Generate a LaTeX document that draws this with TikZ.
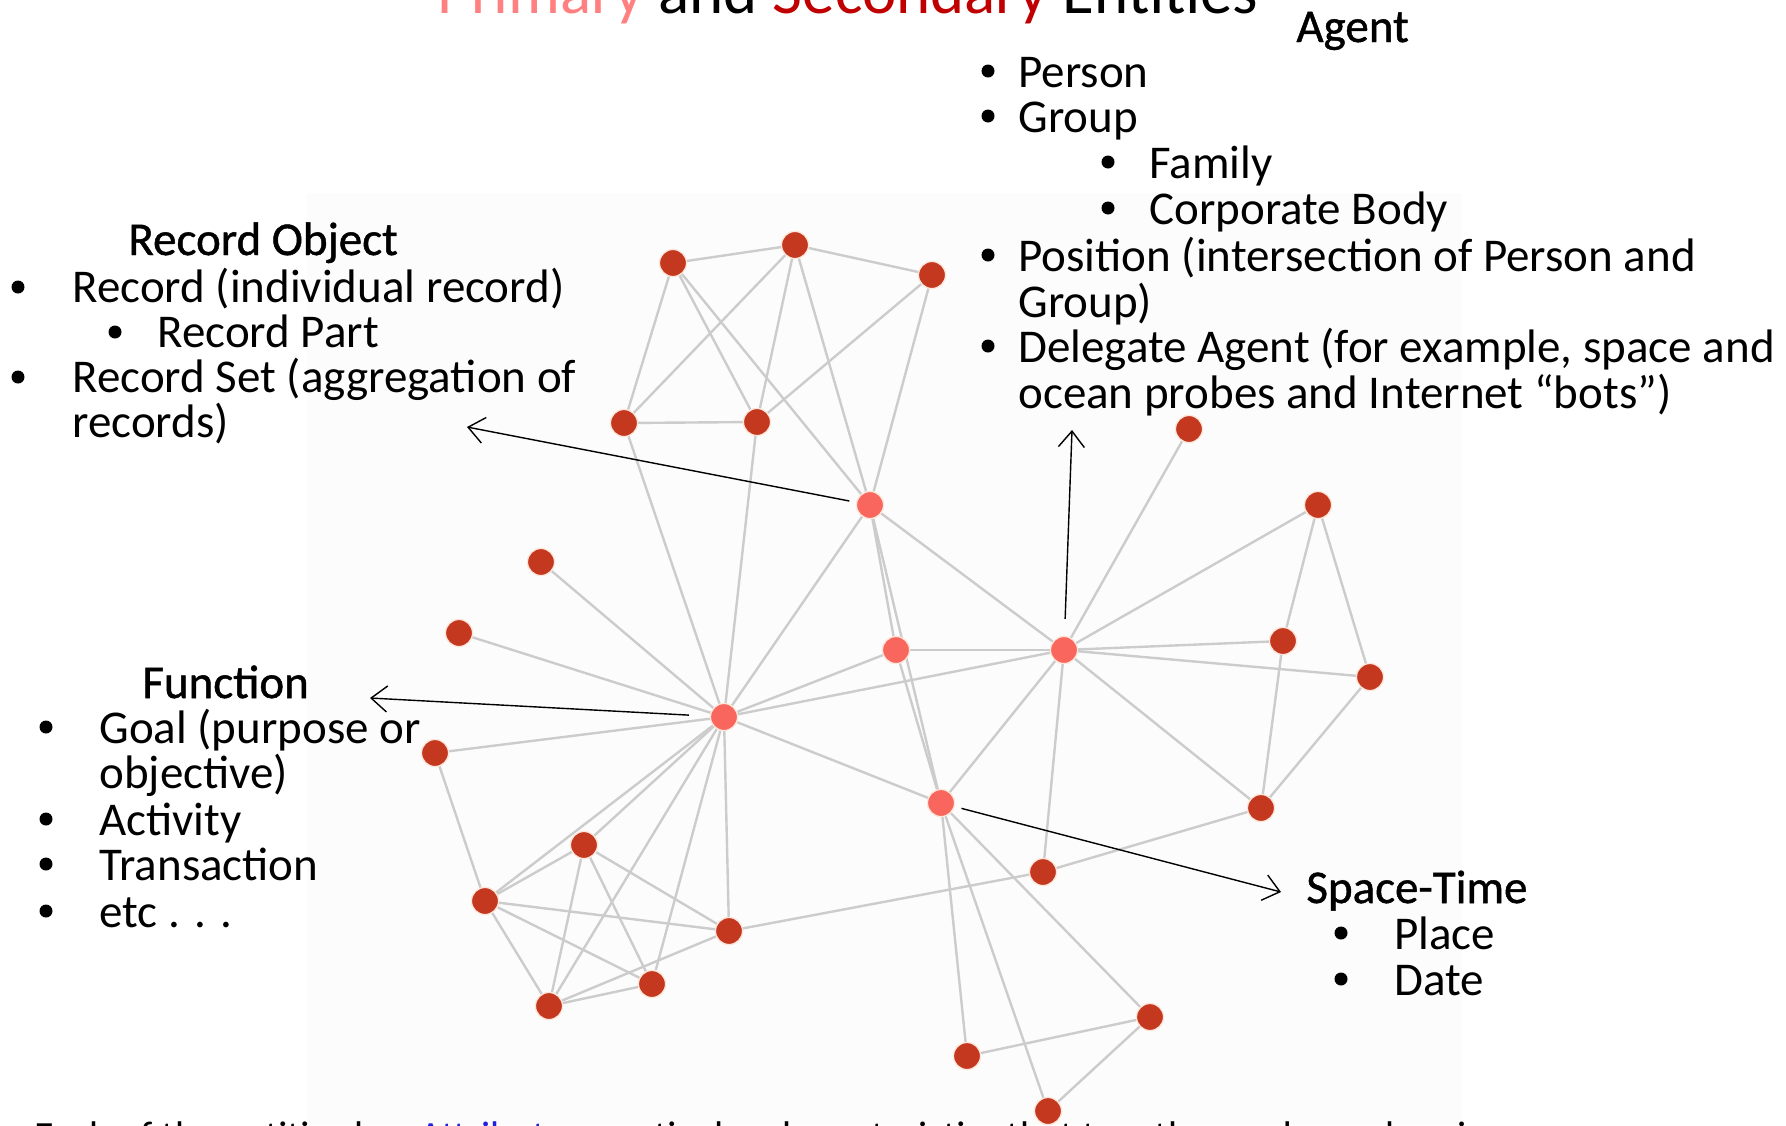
\documentclass[tikz,border=0pt]{standalone}
\usepackage{fontspec}
\setmainfont{Carlito}
\newfontfamily\headfont{Carlito}[FakeBold=1]
\usetikzlibrary{arrows.meta}
\definecolor{darknode}{HTML}{C43820}
\definecolor{pinknode}{HTML}{F8665E}
\definecolor{edgegray}{HTML}{CCCCCC}
\definecolor{primcol}{HTML}{FF8080}
\definecolor{seccol}{HTML}{C00000}
\definecolor{attrcol}{HTML}{2020E0}
\definecolor{bgpanel}{HTML}{FCFCFC}
\definecolor{ringcol}{HTML}{FFE6DA}
\tikzset{
  vtx/.style={circle, inner sep=0pt, minimum size=13.5pt, line width=0.6pt, draw=ringcol},
  dk/.style={vtx, fill=darknode},
  pk/.style={vtx, fill=pinknode},
  link/.style={draw=edgegray, line width=1.2pt},
  arr/.style={draw=black, line width=0.7pt, -{Straight Barb[length=8pt,width=13pt,line width=0.7pt]}},
  txt/.style={anchor=base west, inner sep=0pt, font=\fontsize{23.5}{23.5}\selectfont},
  head/.style={anchor=base west, inner sep=0pt, font=\headfont\fontsize{23.5}{23.5}\selectfont},
  bul/.style={circle, fill=black, inner sep=0pt, minimum size=6.5pt},
}
\begin{document}
\begin{tikzpicture}[x=0.5pt,y=-0.5pt]
\useasboundingbox (0,0) rectangle (1786,1125);
\fill[white] (0,0) rectangle (1786,1125);
\fill[bgpanel] (307,193) rectangle (1462,1125);

% title (cut off at top, as in the reference)
\node[anchor=base west, inner sep=0pt, font=\fontsize{32.5}{32.5}\selectfont] (title) at (437,13)
  {\textcolor{primcol}{Primary} and \textcolor{seccol}{Secondary} Entities};

% bottom text (cut off at bottom, as in the reference)
\node[anchor=base west, inner sep=0pt, font=\fontsize{20}{20}\selectfont] (bottom) at (34,1149)
  {Each of the entities has \textcolor{attrcol}{Attributes}, particular characteristics that together make each unique.};

% graph vertices
\node[dk] (A) at (673,263) {};
\node[dk] (B) at (795,245) {};
\node[dk] (C) at (932,275) {};
\node[dk] (D) at (624,423) {};
\node[dk] (E) at (757,422) {};
\node[pk] (P1) at (870,505) {};
\node[dk] (F) at (541,562) {};
\node[dk] (G) at (459,633) {};
\node[pk] (P2) at (896,650) {};
\node[pk] (P3) at (1064,650) {};
\node[dk] (H) at (1189,429) {};
\node[dk] (I) at (1318,505) {};
\node[dk] (J) at (1283,641) {};
\node[dk] (K) at (1370,677) {};
\node[pk] (P4) at (724,717) {};
\node[dk] (L) at (435,753) {};
\node[pk] (P5) at (941,803) {};
\node[dk] (M) at (1261,808) {};
\node[dk] (N) at (1043,872) {};
\node[dk] (O) at (584,845) {};
\node[dk] (Q) at (485,901) {};
\node[dk] (R) at (729,931) {};
\node[dk] (S) at (652,984) {};
\node[dk] (T) at (549,1006) {};
\node[dk] (U) at (1150,1017) {};
\node[dk] (V) at (967,1056) {};
\node[dk] (W) at (1048,1111) {};

% edges
\foreach \a/\b in {A/B,B/C,A/D,A/E,A/P1,B/D,B/E,B/P1,C/E,C/P1,D/E,D/P4,E/P4,
  P1/P4,P1/P3,P1/P2,P1/P5,P2/P5,P2/P3,P2/P4,P3/P4,F/P4,G/P4,L/P4,
  P3/H,P3/I,P3/J,P3/K,P3/M,P3/N,P3/P5,I/J,I/K,J/M,K/M,M/N,N/R,
  P4/P5,P4/O,P4/Q,P4/R,P4/S,P4/T,L/Q,O/Q,O/T,O/S,O/R,Q/R,Q/S,Q/T,T/S,T/R,
  P5/V,P5/W,P5/U,V/U,U/W}
  {\draw[link] (\a) -- (\b);}

% vertices drawn again on top of the edges
\foreach \n/\s in {A/dk,B/dk,C/dk,D/dk,E/dk,P1/pk,F/dk,G/dk,P2/pk,P3/pk,H/dk,I/dk,J/dk,K/dk,
  P4/pk,L/dk,P5/pk,M/dk,N/dk,O/dk,Q/dk,R/dk,S/dk,T/dk,U/dk,V/dk,W/dk}
  {\node[\s] at (\n.center) {};}

% arrows
\coordinate (recTip) at (467,427);
\coordinate (agentTip) at (1072,430);
\coordinate (funcTip) at (370,698);
\coordinate (stTip) at (1281,892);
\draw[arr, shorten <=3.5pt] (P1) -- (recTip);
\draw[arr, shorten <=8.5pt] (P3) -- (agentTip);
\draw[arr, shorten <=10.5pt] (P4) -- (funcTip);
\draw[arr, shorten <=3.5pt] (P5) -- (stTip);

% Record Object
\node[head] (roH) at (128,255) {Record Object};
\node[bul] (rob1) at (18,287) {};
\node[txt] (ro1) at (72,302) {Record (individual record)};
\node[bul] (rob2) at (115,332) {};
\node[txt] (ro2) at (157,347) {Record Part};
\node[bul] (rob3) at (18,377) {};
\node[txt] (ro3) at (72,392) {Record Set (aggregation of};
\node[txt] (ro4) at (72,437) {records)};

% Function
\node[head] (fnH) at (142,698) {Function};
\node[bul] (fnb1) at (46,727) {};
\node[txt] (fn1) at (99,743) {Goal (purpose or};
\node[txt] (fn2) at (99,788) {objective)};
\node[bul] (fnb2) at (46,819) {};
\node[txt] (fn3) at (99,835) {Activity};
\node[bul] (fnb3) at (46,864) {};
\node[txt] (fn4) at (99,880) {Transaction};
\node[bul] (fnb4) at (46,911) {};
\node[txt] (fn5) at (99,927) {etc . . .};

% Agent
\node[head] (agH) at (1296,42) {Agent};
\node[bul] (agb1) at (988,71) {};
\node[txt] (ag1) at (1018,87) {Person};
\node[bul] (agb2) at (988,116) {};
\node[txt] (ag2) at (1018,132) {Group};
\node[bul] (agb3) at (1108,162) {};
\node[txt] (ag3) at (1149,178) {Family};
\node[bul] (agb4) at (1108,208) {};
\node[txt] (ag4) at (1149,224) {Corporate Body};
\node[bul] (agb5) at (988,255) {};
\node[txt] (ag5) at (1018,271) {Position (intersection of Person and};
\node[txt] (ag6) at (1018,317) {Group)};
\node[bul] (agb6) at (988,346) {};
\node[txt] (ag7) at (1018,362) {Delegate Agent (for example, space and};
\node[txt] (ag8) at (1018,408) {ocean probes and Internet “bots”)};

% Space-Time
\node[head] (stH) at (1306,903) {Space-Time};
\node[bul] (stb1) at (1341,933) {};
\node[txt] (st1) at (1394,949) {Place};
\node[bul] (stb2) at (1341,979) {};
\node[txt] (st2) at (1394,995) {Date};
\end{tikzpicture}
\end{document}
